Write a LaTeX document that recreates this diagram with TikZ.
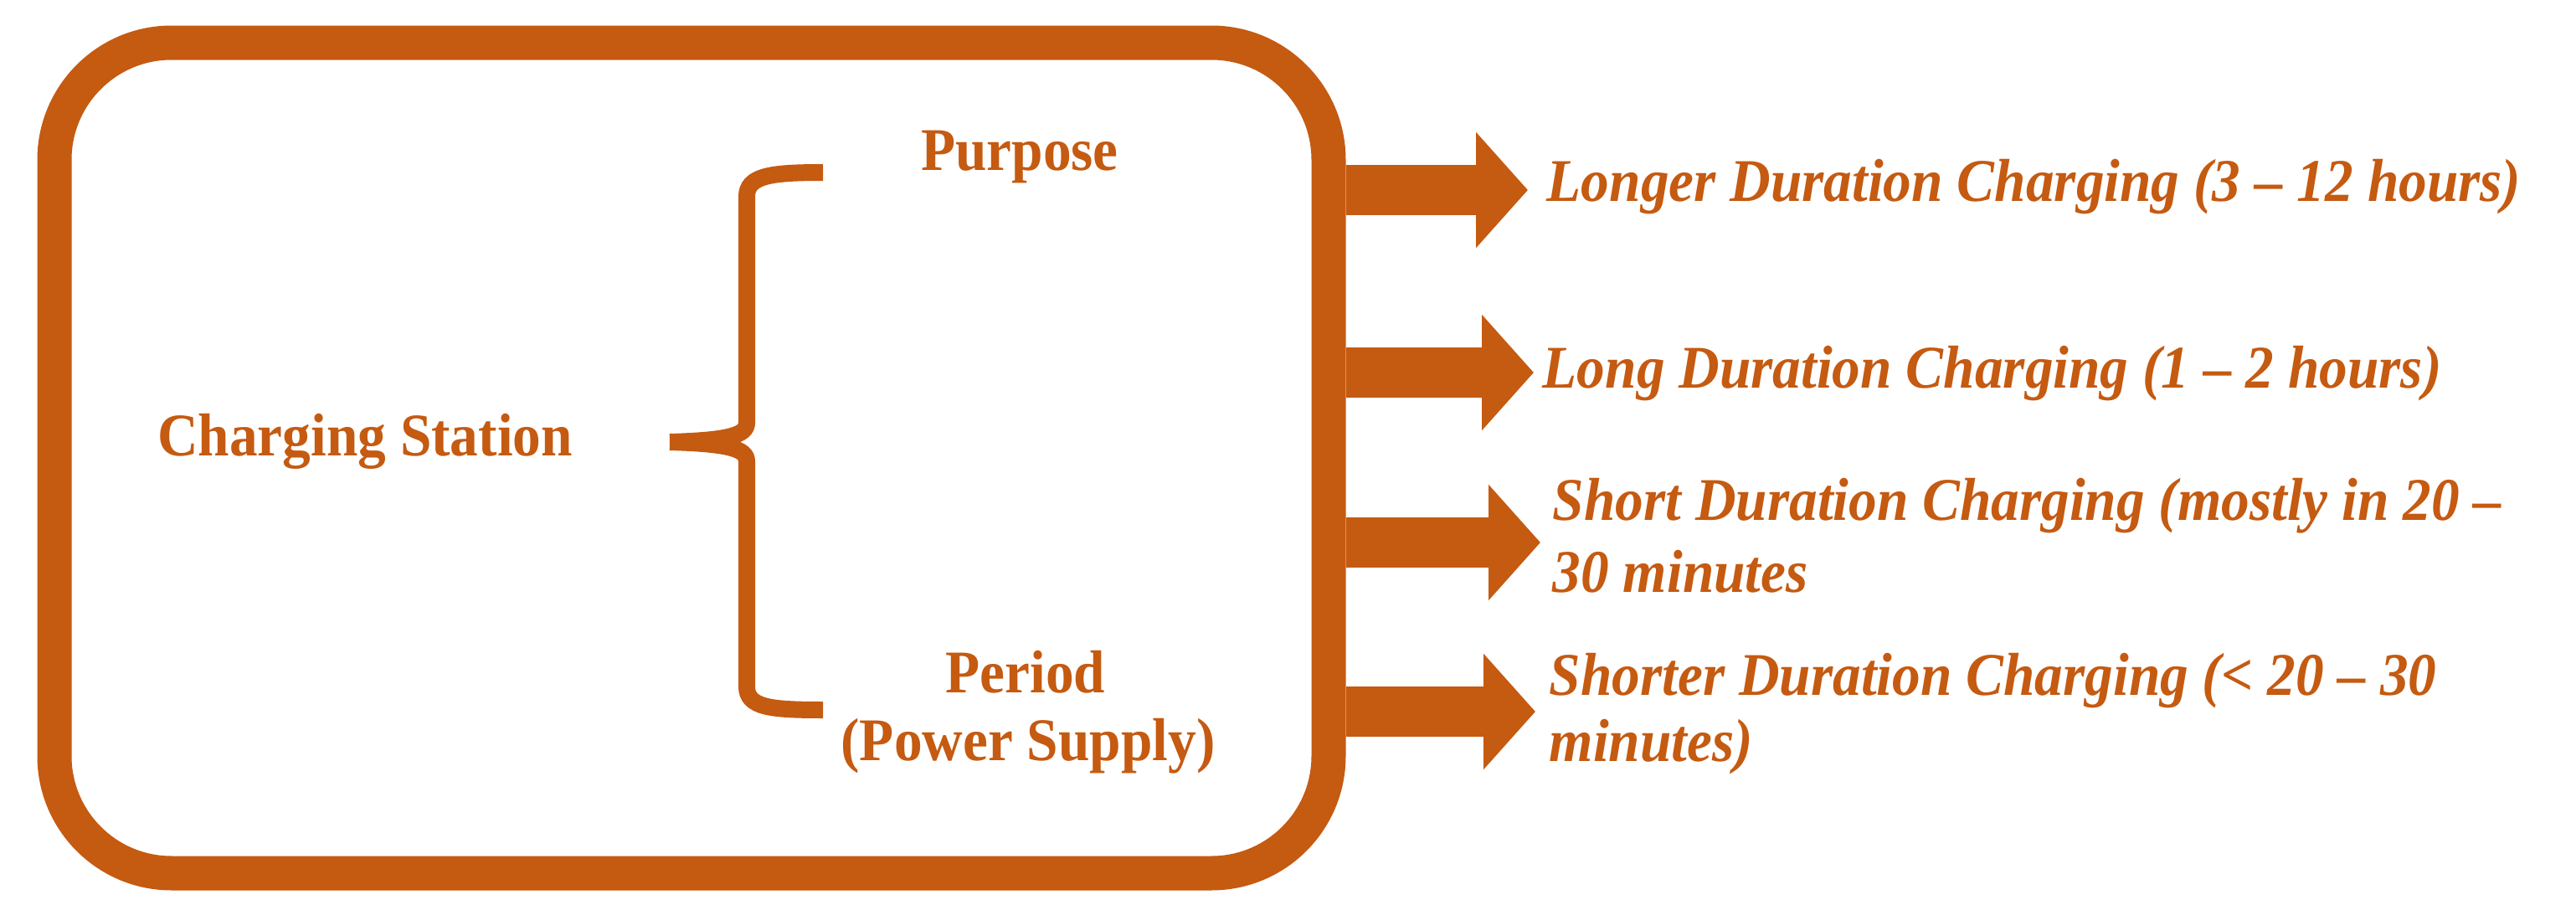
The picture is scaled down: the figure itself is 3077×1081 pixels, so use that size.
\documentclass[tikz,border=0pt]{standalone}
\usepackage{fontspec}
\setmainfont{Liberation Serif}[FakeStretch=0.93]
\usetikzlibrary{arrows.meta,calc}
\definecolor{org}{RGB}{197,90,17}
\begin{document}
\begin{tikzpicture}[x=0.25pt,y=-0.25pt,
  lbl/.style={text=org,inner sep=0pt,font=\fontsize{18.1pt}{21pt}\selectfont\bfseries},
  ilbl/.style={lbl,font=\fontsize{18.1pt}{21pt}\selectfont\bfseries\itshape,anchor=base west},
  fat/.style={draw=org,line width=15pt,-{Triangle[length=15.5pt,width=33.75pt]}},
  bracestyle/.style={draw=org,line width=5pt}]
\fill[white] (0,0) rectangle (3077,1081);
\useasboundingbox (0,0) rectangle (3077,1081);
% main box
\node[draw=org,line width=10.25pt,rounded corners=35pt,minimum width=380.5pt,minimum height=248pt,inner sep=0pt] (station) at (826,547) {};
% texts inside
\node[lbl,anchor=base] (cs) at (436,544) {Charging Station};
\node[lbl,anchor=base] (purpose) at (1218,203) {Purpose};
\node[lbl,anchor=base] (period) at (1225,827) {Period};
\node[lbl,anchor=base] (power) at (1228,908) {(Power Supply)};
% brace
\draw[bracestyle] (983,206) .. controls (920,206) and (892,210) .. (892,235) -- (892,505) .. controls (892,520) and (870,526) .. (800,528);
\draw[bracestyle] (800,528) .. controls (870,530) and (892,536) .. (892,551) -- (892,820) .. controls (892,845) and (920,848) .. (983,848);
% right texts
\node[ilbl] (t1) at (1847,240) {Longer Duration Charging (3 – 12 hours)};
\node[ilbl] (t2) at (1842,463) {Long Duration Charging (1 – 2 hours)};
\node[ilbl] (t3a) at (1854,621) {Short Duration Charging (mostly in 20 –};
\node[ilbl] (t3b) at (1854,707) {30 minutes};
\node[ilbl] (t4a) at (1850,830) {Shorter Duration Charging (< 20 – 30};
\node[ilbl] (t4b) at (1850,909) {minutes)};
% arrow tips
\coordinate (a1) at (1825,227);
\coordinate (a2) at (1832,445);
\coordinate (a3) at (1840,648);
\coordinate (a4) at (1834,850);
\draw[fat] (station.east |- a1) -- (a1);
\draw[fat] (station.east |- a2) -- (a2);
\draw[fat] (station.east |- a3) -- (a3);
\draw[fat] (station.east |- a4) -- (a4);
\end{tikzpicture}
\end{document}
